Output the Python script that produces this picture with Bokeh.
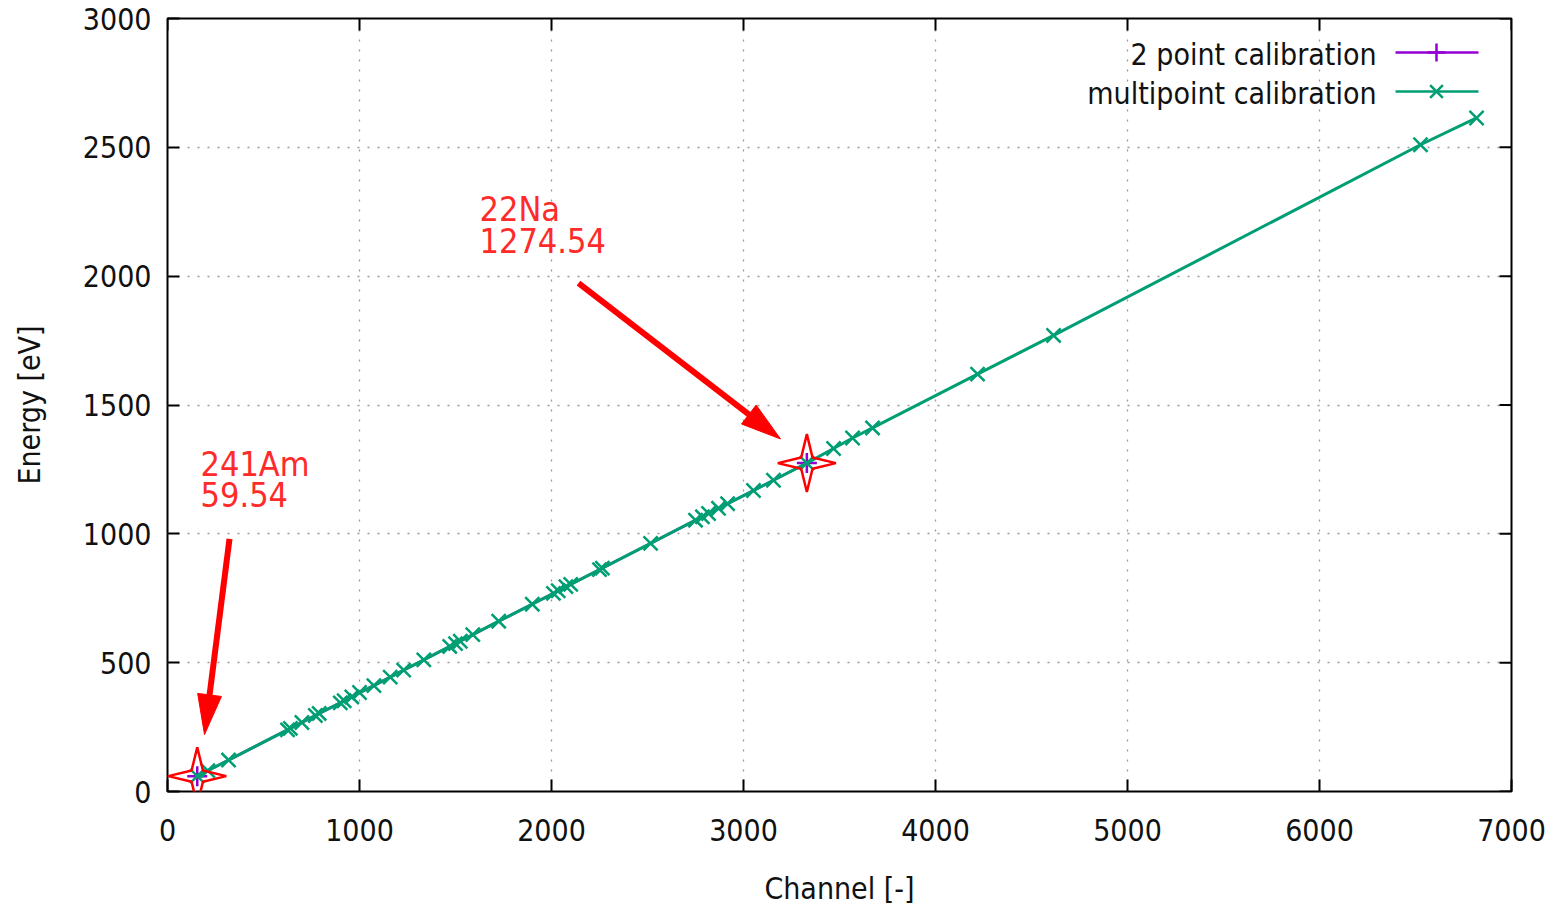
import math
from bokeh.plotting import figure
from bokeh.models import Range1d, FixedTicker
from bokeh.core.properties import value
from bokeh.embed import file_html
from bokeh.resources import INLINE

# ---------------- data ----------------
multi_channel = [155, 210, 318, 625, 640, 700, 770, 790, 900, 920, 960, 1000,
                 1075, 1160, 1230, 1335, 1470, 1500, 1525, 1590, 1725, 1900,
                 2010, 2035, 2075, 2100, 2250, 2265, 2516, 2750, 2786, 2818,
                 2870, 2917, 3052, 3156, 3330, 3469, 3568, 3672, 4219, 4615,
                 6526, 6818]
multi_energy = [59.5, 81, 122, 239, 245, 268, 295, 303, 344, 352, 367, 384,
                411, 444, 471, 511, 563, 574, 583, 609, 661, 727,
                769, 779, 795, 804, 861, 867, 963, 1053, 1066, 1079,
                1099, 1117, 1168, 1208, 1274.5, 1331, 1372, 1411, 1620, 1770,
                2510, 2614]
two_channel = [155, 3330]
two_energy = [59.54, 1274.54]
cal_names = ["241Am", "22Na"]
cal_values = ["59.54", "1274.54"]
series_names = ["2 point calibration", "multipoint calibration"]
x_ticks = [0, 1000, 2000, 3000, 4000, 5000, 6000, 7000]
y_ticks = [0, 500, 1000, 1500, 2000, 2500, 3000]

# ---------------- styling ----------------
FONT = "DejaVu Sans Condensed"
W, H = 1560, 908
L, R, T, B = 167, 49, 18, 116
FW, FH = W - L - R, H - T - B
X0, X1, Y0, Y1 = 0, 7000, 0, 3000
sx = (X1 - X0) / FW
sy = (Y1 - Y0) / FH
PURPLE = "#9400d3"
GREEN = "#009e73"
RED = "#ff0000"
TXT_RED = "#ff2a2a"
TICK_LEN = 12


def dx(px):
    return X0 + (px - L) * sx


def dy(py):
    return Y0 + (T + FH - py) * sy


p = figure(width=W, height=H, x_range=Range1d(X0, X1), y_range=Range1d(Y0, Y1),
           output_backend="svg", toolbar_location=None, tools="",
           min_border_left=L, min_border_right=R, min_border_top=T, min_border_bottom=B)
p.background_fill_color = "white"
p.border_fill_color = "white"
p.outline_line_color = "black"
p.outline_line_width = 2

for g, tk in ((p.xgrid, x_ticks), (p.ygrid, y_ticks)):
    g.ticker = FixedTicker(ticks=tk)
    g.grid_line_color = "#9a9a9a"
    g.grid_line_dash = "2 8"
    g.grid_line_width = 1.3

p.xaxis.ticker = FixedTicker(ticks=x_ticks)
p.yaxis.ticker = FixedTicker(ticks=y_ticks)
for ax in (p.xaxis[0], p.yaxis[0]):
    ax.major_tick_in = TICK_LEN
    ax.major_tick_out = 0
    ax.major_tick_line_width = 2
    ax.minor_tick_line_color = None
    ax.axis_line_color = None
    ax.major_label_text_font = FONT
    ax.major_label_text_font_size = "30px"
    ax.major_label_text_color = "#111111"
    ax.axis_label_text_font = FONT
    ax.axis_label_text_font_size = "30px"
    ax.axis_label_text_font_style = "normal"
    ax.axis_label_text_color = "#111111"
p.xaxis.axis_label = "Channel [-]"
p.yaxis.axis_label = "Energy [eV]"
p.xaxis.major_label_standoff = 27
p.yaxis.major_label_standoff = 16
p.xaxis.axis_label_standoff = 27
p.yaxis.axis_label_standoff = 33

# mirrored inward ticks on the top and right edges
p.segment(x0=x_ticks, y0=[Y1] * len(x_ticks), x1=x_ticks,
          y1=[Y1 - TICK_LEN * sy] * len(x_ticks), line_color="black", line_width=2)
p.segment(x0=[X1] * len(y_ticks), y0=y_ticks, x1=[X1 - TICK_LEN * sx] * len(y_ticks),
          y1=y_ticks, line_color="black", line_width=2)

# ---------------- series ----------------
p.line(two_channel, two_energy, line_color=PURPLE, line_width=2.5)
p.scatter(two_channel, two_energy, marker="cross", size=20, line_color=PURPLE, line_width=2.5)
p.line(multi_channel, multi_energy, line_color=GREEN, line_width=3)
p.scatter(multi_channel, multi_energy, marker="x", size=20, line_color=GREEN, line_width=2.5)

# ---------------- calibration stars (4-point) ----------------
R_OUT, R_IN = 29, 8
star_xs, star_ys = [], []
for cx, cy in zip(two_channel, two_energy):
    xs, ys = [], []
    for k in range(8):
        ang = math.radians(45 * k)
        rad = R_OUT if k % 2 == 0 else R_IN
        xs.append(cx + rad * math.cos(ang) * sx)
        ys.append(cy + rad * math.sin(ang) * sy)
    star_xs.append(xs)
    star_ys.append(ys)
p.patches(star_xs, star_ys, fill_color=None, line_color=RED, line_width=2.5)

# ---------------- arrows (screen px: tail, tip) ----------------
arrows_px = [((229, 539), (204, 735)), ((578, 283), (780, 439))]
HEAD_LEN, HEAD_HALF = 40, 12
for (tx, ty), (hx, hy) in arrows_px:
    ddx, ddy = hx - tx, hy - ty
    n = math.hypot(ddx, ddy)
    ux, uy = ddx / n, ddy / n
    bx, by = hx - ux * HEAD_LEN, hy - uy * HEAD_LEN
    px_, py_ = -uy, ux
    p.segment(x0=[dx(tx)], y0=[dy(ty)], x1=[dx(bx + ux * 4)], y1=[dy(by + uy * 4)],
              line_color=RED, line_width=6)
    p.patch([dx(hx), dx(bx + px_ * HEAD_HALF), dx(bx - px_ * HEAD_HALF)],
            [dy(hy), dy(by + py_ * HEAD_HALF), dy(by - py_ * HEAD_HALF)],
            fill_color=RED, line_color=RED, line_width=1)

# ---------------- labels ----------------
label_px = [(200, 464, 495), (479, 209, 240)]
lx, ly, lt = [], [], []
for (x, y1, y2), name, val in zip(label_px, cal_names, cal_values):
    lx += [dx(x), dx(x)]
    ly += [dy(y1), dy(y2)]
    lt += [name, val]
p.text(x=lx, y=ly, text=lt, text_font=value(FONT), text_font_size="34px",
       text_color=TXT_RED, text_baseline="alphabetic", text_align="left")

# ---------------- legend (gnuplot style) ----------------
leg_rows = [54, 93]
p.text(x=[dx(1376)] * 2, y=[dy(r) for r in leg_rows], text=series_names,
       text_font=value(FONT), text_font_size="30px", text_color="#111111",
       text_baseline="middle", text_align="right")
for r, col, mk in zip(leg_rows, [PURPLE, GREEN], ["cross", "x"]):
    p.segment(x0=[dx(1395)], y0=[dy(r - 2)], x1=[dx(1478)], y1=[dy(r - 2)],
              line_color=col, line_width=2.5)
    p.scatter([dx(1436)], [dy(r - 2)], marker=mk, size=18, line_color=col, line_width=2.5)

open("out.html", "w").write(file_html(p, INLINE))
